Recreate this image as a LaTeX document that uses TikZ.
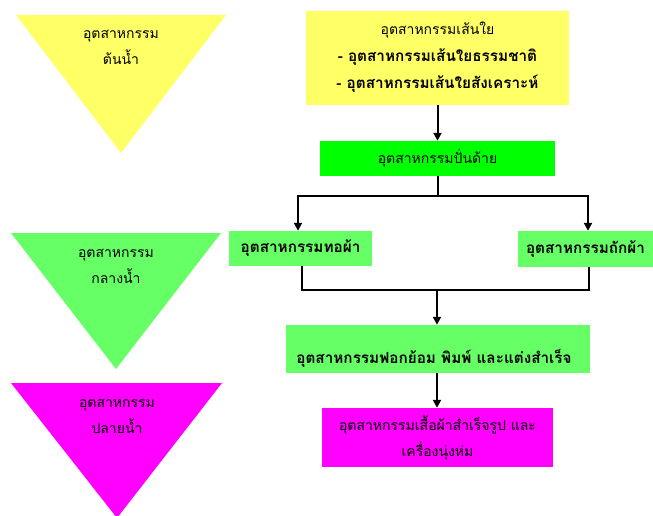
\documentclass[tikz,border=0pt]{standalone}
\usepackage{fontspec}
\newfontfamily\thaifont[Script=Thai]{Loma}
\usetikzlibrary{arrows.meta}
\definecolor{cyel}{HTML}{FFFF66}
\definecolor{cgrn}{HTML}{66FF66}
\definecolor{cbgr}{HTML}{00FF00}
\definecolor{cmag}{HTML}{FF00FF}
\tikzset{
  box/.style={inner sep=0pt, minimum width=#1},
  txt/.style={font=\thaifont\fontsize{14}{26}\selectfont, align=center, inner sep=0pt},
  btxt/.style={font=\thaifont\bfseries\fontsize{15.3}{27}\selectfont, align=center, inner sep=0pt},
  conn/.style={line width=2pt},
  arr/.style={line width=2pt, -{Triangle[length=8pt,width=8pt]}},
}
\begin{document}
\begin{tikzpicture}[x=1pt,y=-1pt]
\useasboundingbox (0,0) rectangle (653,516);
% triangles
\fill[cyel] (16,15) -- (226,15) -- (121,153) -- cycle;
\node[txt] (tri1) at (121,47) {อุตสาหกรรม\\ต้นน้ำ};
\fill[cgrn] (11,233) -- (221,233) -- (116,369) -- cycle;
\node[txt] (tri2) at (116,266) {อุตสาหกรรม\\กลางน้ำ};
\fill[cmag] (11,383) -- (222,383) -- (117,518) -- cycle;
\node[txt] (tri3) at (117,416) {อุตสาหกรรม\\ปลายน้ำ};
% boxes
\node[box=263pt, minimum height=94pt, fill=cyel] (b1) at (437.5,58) {};
\node[txt] (t1a) at (437.5,30) {อุตสาหกรรมเส้นใย};
\node[btxt] (t1b) at (437.5,71) {- อุตสาหกรรมเส้นใยธรรมชาติ\\- อุตสาหกรรมเส้นใยสังเคราะห์};
\node[box=235pt, minimum height=35pt, fill=cbgr, txt] (b2) at (437.5,158.5) {อุตสาหกรรมปั่นด้าย};
\node[box=143pt, minimum height=35pt, fill=cgrn, btxt] (b3) at (300.5,248.5) {อุตสาหกรรมทอผ้า};
\node[box=135pt, minimum height=36pt, fill=cgrn, btxt] (b4) at (585.5,249) {อุตสาหกรรมถักผ้า};
\node[box=304pt, minimum height=48pt, fill=cgrn] (b5) at (438,349) {};
\node[btxt] (t5) at (434,358) {อุตสาหกรรมฟอกย้อม พิมพ์ และแต่งสำเร็จ};
\node[box=231pt, minimum height=59pt, fill=cmag, txt] (b6) at (437.5,437.5) {อุตสาหกรรมเสื้อผ้าสำเร็จรูป และ\\เครื่องนุ่งห่ม};
% connectors
\draw[arr] (b1.south) -- (b2.north);
\draw[conn] (b2.south) -- ++(0,20) coordinate (j1);
\draw[arr] ([xshift=1pt]j1) -| ([xshift=-2.5pt]b3.north);
\draw[arr] ([xshift=-1pt]j1) -| ([xshift=2.5pt]b4.north);
\draw[conn] ([xshift=1.5pt]b3.south) |- (437,290) coordinate (j2);
\draw[conn] ([xshift=3.5pt]b4.south) |- (j2);
\draw[arr] (j2) -- (b5.north -| j2);
\draw[arr] (b5.south -| j2) -- (b6.north -| j2);
\end{tikzpicture}
\end{document}
